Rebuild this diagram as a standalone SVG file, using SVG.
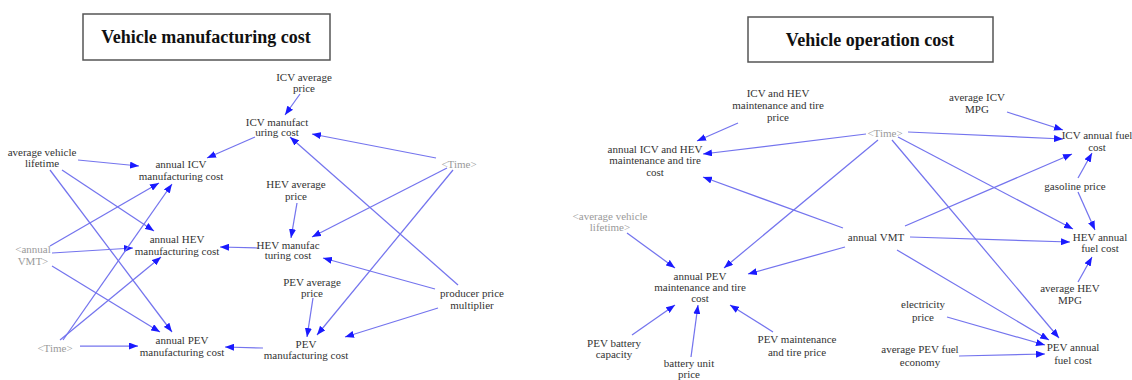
<svg xmlns="http://www.w3.org/2000/svg" width="1132" height="380" viewBox="0 0 1132 380">
<style>
.t{font-family:"Liberation Serif","Times New Roman",serif;font-size:11px;fill:#333;text-anchor:middle}
.g{fill:#9a9a9a}
.h{font-family:"Liberation Serif","Times New Roman",serif;font-size:18px;font-weight:bold;fill:#111;text-anchor:middle}
.box{fill:#fff;stroke:#555;stroke-width:1.5}
.e line{stroke:#7474ee;stroke-width:1.25;fill:none;marker-end:url(#ah)}
</style>
<defs>
<marker id="ah" viewBox="0 0 10 10" refX="10" refY="5" markerWidth="9" markerHeight="7" markerUnits="userSpaceOnUse" orient="auto" preserveAspectRatio="none">
<path d="M0,0 L10,5 L0,10 z" fill="#1a1aff"/>
</marker>
</defs>
<rect width="1132" height="380" fill="#fff"/>
<g id="title-left"><rect class="box" x="83" y="14" width="247" height="46"/><text class="h" x="206" y="43">Vehicle manufacturing cost</text></g>
<g id="title-right"><rect class="box" x="748" y="17" width="245" height="45"/><text class="h" x="870" y="46">Vehicle operation cost</text></g>

<g class="e" id="connectors">
<line x1="300" y1="94" x2="285" y2="115"/>
<line x1="255" y1="137" x2="207" y2="158"/>
<line x1="436" y1="158" x2="312" y2="134"/>
<line x1="458" y1="285" x2="290" y2="137"/>
<line x1="78" y1="160" x2="139" y2="166"/>
<line x1="62" y1="170" x2="154" y2="231"/>
<line x1="50" y1="170" x2="172" y2="332"/>
<line x1="50" y1="246" x2="159" y2="183"/>
<line x1="52" y1="253" x2="133" y2="248"/>
<line x1="52" y1="266" x2="160" y2="332"/>
<line x1="60" y1="340" x2="161" y2="257"/>
<line x1="63" y1="340" x2="172" y2="184"/>
<line x1="80" y1="346" x2="138" y2="346"/>
<line x1="258" y1="248" x2="220" y2="247"/>
<line x1="263" y1="348" x2="225" y2="347"/>
<line x1="297" y1="203" x2="291" y2="238"/>
<line x1="447" y1="168" x2="312" y2="237"/>
<line x1="453" y1="170" x2="317" y2="335"/>
<line x1="435" y1="289" x2="323" y2="258"/>
<line x1="438" y1="308" x2="345" y2="337"/>
<line x1="313" y1="298" x2="307" y2="337"/>

<line x1="738" y1="123" x2="697" y2="141"/>
<line x1="866" y1="134" x2="703" y2="154"/>
<line x1="843" y1="228" x2="703" y2="177"/>
<line x1="878" y1="140" x2="724" y2="268"/>
<line x1="627" y1="233" x2="675" y2="268"/>
<line x1="845" y1="247" x2="748" y2="274"/>
<line x1="632" y1="335" x2="675" y2="305"/>
<line x1="691" y1="357" x2="698" y2="305"/>
<line x1="773" y1="332" x2="730" y2="305"/>
<line x1="1007" y1="112" x2="1063" y2="130"/>
<line x1="908" y1="132" x2="1063" y2="139"/>
<line x1="905" y1="226" x2="1072" y2="154"/>
<line x1="1078" y1="178" x2="1092" y2="153"/>
<line x1="1078" y1="192" x2="1095" y2="230"/>
<line x1="898" y1="137" x2="1073" y2="229"/>
<line x1="892" y1="140" x2="1059" y2="338"/>
<line x1="910" y1="237" x2="1070" y2="242"/>
<line x1="1078" y1="282" x2="1092" y2="257"/>
<line x1="897" y1="250" x2="1049" y2="340"/>
<line x1="947" y1="317" x2="1045" y2="345"/>
<line x1="959" y1="356" x2="1045" y2="354"/>
</g>

<g id="icv-avg-price"><text class="t" x="304" y="81">ICV average</text><text class="t" x="304" y="92">price</text></g>
<g id="icv-manuf"><text class="t" x="277" y="126">ICV manufact</text><text class="t" x="277" y="136">uring cost</text></g>
<g id="avg-lifetime"><text class="t" x="42" y="156">average vehicle</text><text class="t" x="42" y="167">lifetime</text></g>
<g id="annual-icv-manuf"><text class="t" x="181" y="168">annual ICV</text><text class="t" x="181" y="180">manufacturing cost</text></g>
<g id="time-l1"><text class="t g" x="459" y="168">&lt;Time&gt;</text></g>
<g id="hev-avg-price"><text class="t" x="296" y="188">HEV average</text><text class="t" x="296" y="200">price</text></g>
<g id="annual-vmt-l"><text class="t g" x="33" y="253">&lt;annual</text><text class="t g" x="33" y="265">VMT&gt;</text></g>
<g id="annual-hev-manuf"><text class="t" x="177" y="243">annual HEV</text><text class="t" x="177" y="255">manufacturing cost</text></g>
<g id="hev-manuf"><text class="t" x="288" y="249">HEV manufac</text><text class="t" x="288" y="259">turing cost</text></g>
<g id="pev-avg-price"><text class="t" x="312" y="286">PEV average</text><text class="t" x="312" y="297">price</text></g>
<g id="producer-mult"><text class="t" x="472" y="297">producer price</text><text class="t" x="472" y="309">multiplier</text></g>
<g id="time-l2"><text class="t g" x="55" y="352">&lt;Time&gt;</text></g>
<g id="annual-pev-manuf"><text class="t" x="182" y="344">annual PEV</text><text class="t" x="182" y="356">manufacturing cost</text></g>
<g id="pev-manuf"><text class="t" x="306" y="348">PEV</text><text class="t" x="306" y="359">manufacturing cost</text></g>

<g id="icvhev-mt-price"><text class="t" x="778" y="97">ICV and HEV</text><text class="t" x="778" y="109">maintenance and tire</text><text class="t" x="778" y="121">price</text></g>
<g id="annual-icvhev-mt"><text class="t" x="655" y="153">annual ICV and HEV</text><text class="t" x="655" y="164">maintenance and tire</text><text class="t" x="655" y="176">cost</text></g>
<g id="time-r"><text class="t g" x="885" y="137">&lt;Time&gt;</text></g>
<g id="avg-icv-mpg"><text class="t" x="977" y="101">average ICV</text><text class="t" x="977" y="113">MPG</text></g>
<g id="icv-fuel"><text class="t" x="1097" y="139">ICV annual fuel</text><text class="t" x="1097" y="151">cost</text></g>
<g id="gasoline"><text class="t" x="1075" y="190">gasoline price</text></g>
<g id="annual-vmt"><text class="t" x="876" y="241">annual VMT</text></g>
<g id="hev-fuel"><text class="t" x="1100" y="241">HEV annual</text><text class="t" x="1100" y="252">fuel cost</text></g>
<g id="avg-hev-mpg"><text class="t" x="1070" y="292">average HEV</text><text class="t" x="1070" y="304">MPG</text></g>
<g id="electricity"><text class="t" x="923" y="308">electricity</text><text class="t" x="923" y="321">price</text></g>
<g id="pev-economy"><text class="t" x="920" y="353">average PEV fuel</text><text class="t" x="920" y="366">economy</text></g>
<g id="pev-fuel"><text class="t" x="1073" y="351">PEV annual</text><text class="t" x="1073" y="364">fuel cost</text></g>
<g id="avg-lifetime-r"><text class="t g" x="610" y="220">&lt;average vehicle</text><text class="t g" x="610" y="231">lifetime&gt;</text></g>
<g id="annual-pev-mt"><text class="t" x="700" y="280">annual PEV</text><text class="t" x="700" y="291">maintenance and tire</text><text class="t" x="700" y="302">cost</text></g>
<g id="pev-battery"><text class="t" x="614" y="347">PEV battery</text><text class="t" x="614" y="358">capacity</text></g>
<g id="battery-price"><text class="t" x="689" y="367">battery unit</text><text class="t" x="689" y="378">price</text></g>
<g id="pev-mt-price"><text class="t" x="797" y="343">PEV maintenance</text><text class="t" x="797" y="356">and tire price</text></g>
</svg>
